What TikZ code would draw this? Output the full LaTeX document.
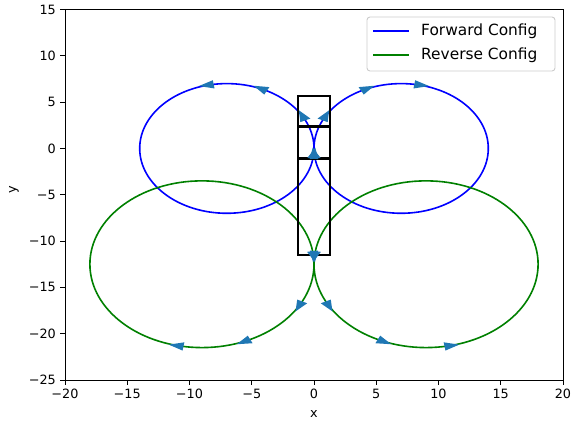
\documentclass[tikz,border=0pt]{standalone}
\usepackage{fontspec}
\setmainfont{DejaVu Sans}
\usetikzlibrary{calc}
\definecolor{fwdblue}{RGB}{0,0,255}
\definecolor{revgreen}{RGB}{0,128,0}
\definecolor{headblue}{RGB}{31,119,180}

\begin{document}
\begin{tikzpicture}[x=12.45pt,y=9.2625pt,
  axisline/.style={line width=.9pt},
  ticklab/.style={font=\fontsize{12.8}{15}\selectfont,inner sep=0pt},
  leglab/.style={font=\fontsize{15.4}{18}\selectfont,inner sep=0pt,anchor=west},
  pathline/.style={line width=1.6pt},
  carbox/.style={line width=2.7pt,line join=miter},
  headfill/.style={fill=headblue}]
 \useasboundingbox (-25.221,-29.75) rectangle (20.643,16.026);
 % paths
 \draw[pathline,fwdblue] (-7,0) circle (7) (7,0) circle (7);
 \draw[pathline,revgreen] (-9,-12.5) circle (9) (9,-12.5) circle (9);
 % vehicle outline
 \draw[carbox] (-1.28,-1.1) rectangle (1.28,5.65);
 \draw[carbox] (-1.28,-11.52) rectangle (1.28,2.39);
 % heading marks (centre/radius/sense/angle on the circle)
 \foreach \cx/\cy/\r/\s/\th in {-7/0/7/1/-9,-7/0/7/1/25.7,-7/0/7/1/62.7,-7/0/7/1/98.7,
   7/0/7/-1/189,7/0/7/-1/154.3,7/0/7/-1/117.3,7/0/7/-1/81.3,
   -9/-12.5/9/-1/9,-9/-12.5/9/-1/-26.5,-9/-12.5/9/-1/-64.5,-9/-12.5/9/-1/-99.5,
   9/-12.5/9/1/171,9/-12.5/9/1/206.5,9/-12.5/9/1/244.5,9/-12.5/9/1/279.5}{
   \pgfmathsetmacro\bx{\cx+\r*cos(\th)}
   \pgfmathsetmacro\by{\cy+\r*sin(\th)}
   \pgfmathsetmacro\hx{\s*(-sin(\th))}
   \pgfmathsetmacro\hy{\s*(cos(\th))}
   \fill[headfill] ({\bx+1.2*(\hx)},{\by+1.2*(\hy)}) -- ({\bx-0.45*(\hy)},{\by+0.45*(\hx)})
     -- ({\bx+0.45*(\hy)},{\by-0.45*(\hx)}) -- cycle;
 }
 % axes
 \draw[axisline] (-20,-25) rectangle (20,15);
 \foreach \v/\t in {-20/−20,-15/−15,-10/−10,-5/−5,0/0,5/5,10/10,15/15,20/20}{
   \draw[axisline] (\v,-25) -- ++(0,-4.5pt);
   \node[ticklab,anchor=north] (xt\v) at ([yshift=-9pt]\v,-25) {\t};
 }
 \foreach \v/\t in {-25/−25,-20/−20,-15/−15,-10/−10,-5/−5,0/0,5/5,10/10,15/15}{
   \draw[axisline] (-20,\v) -- ++(-4.5pt,0);
   \node[ticklab,anchor=east] (yt\v) at ([xshift=-9pt]-20,\v) {\t};
 }
 \node[ticklab] (xlab) at (0,-28.67) {x};
 \node[ticklab,rotate=90] (ylab) at (-24.1,-4.49) {y};
 % legend
 \draw[draw=black!20,fill=white,fill opacity=.8,rounded corners=3pt,line width=.9pt] (4.257,8.36) rectangle (19.357,14.19);
 \draw[pathline,fwdblue] (4.739,12.68) -- (7.631,12.68);
 \draw[pathline,revgreen] (4.739,10.09) -- (7.631,10.09);
 \node[leglab] (fwdlab) at (8.594,12.68) {Forward Config};
 \node[leglab] (revlab) at (8.594,10.09) {Reverse Config};
\end{tikzpicture}
\end{document}
